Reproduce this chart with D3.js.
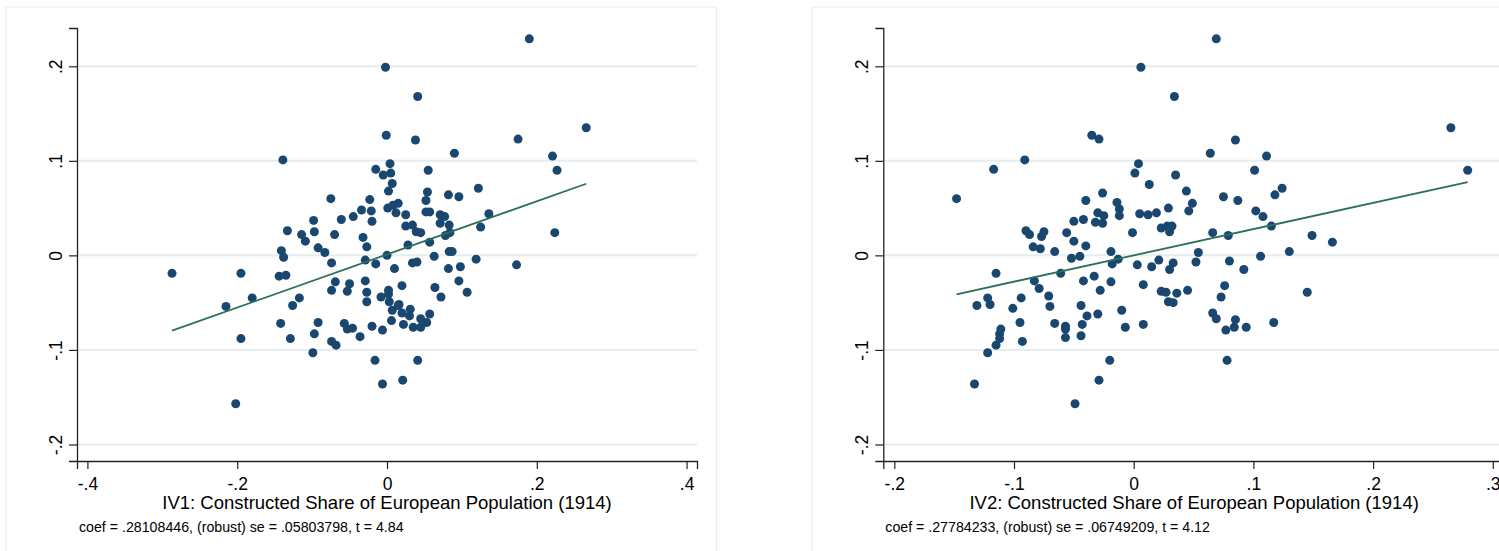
<!DOCTYPE html>
<html>
<head>
  <meta charset="utf-8">
  <title>IV scatter plots</title>
  <style>
    body { margin: 0; padding: 0; background: #fff; overflow: hidden; }
    svg { display: block; }
    text { font-family: "Liberation Sans", Arial, sans-serif; fill: #000; }
  </style>
</head>
<body>
  <svg id="chart" width="1499" height="551"></svg>

  <script src="https://d3js.org/d3.v7.min.js"></script>
  <script>
    // residualised outcome vs. IV1 (left panel)
    const iv1X = [
      -0.002, -0.001, -0.139, 0.004, -0.015, -0.005, 0.005, 0.007, 0.002, -0.075,
      -0.023, -0.034, -0.021, -0.020, -0.045, -0.061, -0.098, -0.133, -0.114, -0.097,
      -0.109, -0.070, -0.032, -0.027, -0.092, -0.083, -0.141, -0.138, -0.074, -0.029,
      -0.015, 0.000, 0.001, 0.008, 0.015, 0.012, 0.010, -0.287, -0.195, -0.144,
      -0.135, -0.069, -0.050, -0.074, -0.053, -0.029, -0.027, -0.027, -0.008, 0.002,
      0.002, 0.003, 0.007, 0.015, 0.006, -0.215, -0.180, -0.117, -0.126, -0.142,
      -0.092, -0.097, -0.129, -0.057, -0.053, -0.046, -0.036, -0.020, -0.006, -0.074,
      -0.068, -0.195, -0.099, -0.016, -0.006, -0.202, 0.025, 0.025, 0.034, 0.039,
      0.045, 0.028, 0.034, 0.040, 0.020, 0.016, 0.020, 0.031, 0.030, 0.045,
      0.022, 0.035, 0.045, 0.053, 0.057, 0.041, 0.021, 0.090, 0.055, 0.054,
      0.052, 0.082, 0.096, 0.122, 0.052, 0.057, 0.071, 0.077, 0.071, 0.083,
      0.078, 0.084, 0.136, 0.125, 0.057, 0.083, 0.087, 0.063, 0.119, 0.098,
      0.082, 0.173, 0.096, 0.064, 0.072, 0.107, 0.190, 0.041, 0.038, 0.175,
      0.266, 0.221, 0.227, 0.224
    ];
    const iv1Y = [
      0.199, 0.127, 0.101, 0.097, 0.091, 0.085, 0.087, 0.076, 0.068, 0.060,
      0.059, 0.048, 0.047, 0.036, 0.041, 0.038, 0.037, 0.026, 0.022, 0.025,
      0.015, 0.022, 0.019, 0.009, 0.008, 0.003, 0.005, -0.002, -0.008, -0.005,
      -0.009, 0.000, 0.050, 0.053, 0.055, 0.045, -0.014, -0.019, -0.019, -0.022,
      -0.021, -0.028, -0.030, -0.037, -0.038, -0.027, -0.039, -0.049, -0.044, -0.037,
      -0.041, -0.049, -0.058, -0.053, -0.069, -0.054, -0.045, -0.045, -0.053, -0.072,
      -0.071, -0.083, -0.088, -0.072, -0.078, -0.077, -0.086, -0.075, -0.079, -0.091,
      -0.095, -0.088, -0.103, -0.111, -0.136, -0.157, 0.043, 0.031, 0.032, 0.025,
      0.024, 0.011, -0.008, -0.007, -0.032, -0.052, -0.061, -0.057, -0.064, -0.067,
      -0.073, -0.076, -0.076, -0.071, -0.062, -0.111, -0.132, 0.108, 0.090, 0.067,
      0.058, 0.064, 0.062, 0.071, 0.046, 0.046, 0.043, 0.041, 0.034, 0.032,
      0.021, 0.024, 0.044, 0.030, 0.014, 0.004, 0.004, -0.001, -0.004, -0.012,
      -0.014, -0.010, -0.027, -0.034, -0.044, -0.039, 0.229, 0.168, 0.122, 0.123,
      0.135, 0.105, 0.090, 0.024
    ];

    // residualised outcome vs. IV2 (right panel)
    const iv2X = [
      0.006, -0.035, -0.029, -0.091, -0.117, 0.004, 0.001, 0.013, -0.148, -0.026,
      -0.040, -0.014, -0.012, -0.012, -0.030, -0.025, -0.032, -0.026, 0.005, 0.012,
      0.019, -0.042, -0.050, -0.090, -0.087, -0.075, -0.077, -0.056, -0.050, -0.040,
      -0.001, -0.084, -0.078, -0.066, -0.019, -0.052, -0.045, -0.018, -0.013, 0.003,
      0.015, 0.021, -0.115, -0.061, -0.033, -0.083, -0.079, -0.042, -0.019, -0.028,
      0.008, -0.131, -0.122, -0.120, -0.094, -0.101, -0.071, -0.070, -0.044, -0.095,
      -0.066, -0.057, -0.057, -0.057, -0.039, -0.043, -0.044, -0.030, -0.010, -0.007,
      0.008, -0.111, -0.112, -0.112, -0.115, -0.122, -0.093, -0.020, -0.029, -0.133,
      -0.049, 0.069, 0.034, 0.265, 0.085, 0.064, 0.111, 0.279, 0.101, 0.035,
      0.044, 0.049, 0.046, 0.075, 0.087, 0.124, 0.118, 0.029, 0.102, 0.108,
      0.115, 0.023, 0.028, 0.032, 0.030, 0.066, 0.079, 0.149, 0.166, 0.054,
      0.130, 0.106, 0.033, 0.030, 0.052, 0.080, 0.092, 0.023, 0.027, 0.036,
      0.045, 0.029, 0.033, 0.076, 0.073, 0.145, 0.066, 0.069, 0.085, 0.084,
      0.077, 0.094, 0.117, 0.078
    ];
    const iv2Y = [
      0.199, 0.127, 0.123, 0.101, 0.091, 0.097, 0.087, 0.075, 0.060, 0.066,
      0.058, 0.056, 0.049, 0.042, 0.045, 0.042, 0.035, 0.034, 0.044, 0.043,
      0.045, 0.038, 0.036, 0.026, 0.022, 0.025, 0.020, 0.024, 0.015, 0.010,
      0.024, 0.009, 0.007, 0.004, 0.004, -0.003, -0.001, -0.009, -0.004, -0.010,
      -0.012, -0.005, -0.019, -0.019, -0.022, -0.027, -0.035, -0.027, -0.028, -0.037,
      -0.031, -0.053, -0.045, -0.052, -0.045, -0.056, -0.043, -0.054, -0.053, -0.071,
      -0.072, -0.075, -0.078, -0.087, -0.064, -0.073, -0.085, -0.062, -0.058, -0.076,
      -0.073, -0.078, -0.083, -0.088, -0.095, -0.103, -0.091, -0.111, -0.132, -0.136,
      -0.157, 0.229, 0.168, 0.135, 0.122, 0.108, 0.105, 0.090, 0.090, 0.085,
      0.068, 0.055, 0.047, 0.062, 0.058, 0.071, 0.064, 0.050, 0.047, 0.041,
      0.031, 0.029, 0.031, 0.031, 0.025, 0.024, 0.021, 0.021, 0.014, 0.003,
      0.004, -0.001, -0.008, -0.015, -0.007, -0.006, -0.015, -0.038, -0.039, -0.040,
      -0.037, -0.049, -0.050, -0.032, -0.044, -0.039, -0.061, -0.067, -0.068, -0.076,
      -0.079, -0.076, -0.071, -0.111
    ];

    const yTicks = [-0.2, -0.1, 0, 0.1, 0.2];
    const iv1Ticks = [-0.4, -0.2, 0, 0.2, 0.4];
    const iv2Ticks = [-0.2, -0.1, 0, 0.1, 0.2, 0.3];

    const iv1Title = 'IV1: Constructed Share of European Population (1914)';
    const iv2Title = 'IV2: Constructed Share of European Population (1914)';
    const iv1Coef = 0.28108446;
    const iv2Coef = 0.27784233;
    const iv1Note = 'coef = .28108446, (robust) se = .05803798, t = 4.84';
    const iv2Note = 'coef = .27784233, (robust) se = .06749209, t = 4.12';

    const dotColor = '#1a476f';
    const lineColor = '#2b6f5c';
    const gridColor = '#e6edf0';
    const font = '"Liberation Sans", Arial, sans-serif';

    // Stata style labels: .2, -.2, 0
    const stataFmt = d => d === 0 ? '0' : d.toFixed(1).replace('0.', '.');

    const svg = d3.select('#chart');

    function drawPanel(opt) {
      const g = svg.append('g');

      // outer graph region
      g.append('rect')
        .attr('x', opt.frame[0]).attr('y', opt.frame[1])
        .attr('width', opt.frame[2]).attr('height', opt.frame[3])
        .attr('fill', '#fff')
        .attr('stroke', gridColor).attr('stroke-width', 1);

      const x = d3.scaleLinear().domain(opt.xDomain).range([opt.left, opt.right]);
      const y = d3.scaleLinear().domain([-0.2175, 0.2405]).range([461, 28]);

      // gridlines
      g.append('g').selectAll('line')
        .data(yTicks)
        .join('line')
        .attr('x1', opt.left).attr('x2', opt.right)
        .attr('y1', d => y(d)).attr('y2', d => y(d))
        .attr('stroke', gridColor).attr('stroke-width', 2);

      // y axis
      const yAxis = g.append('g')
        .attr('transform', `translate(${opt.left},0)`)
        .call(d3.axisLeft(y).tickValues(yTicks).tickSize(8).tickPadding(0).tickFormat(stataFmt));
      yAxis.select('.domain').attr('stroke', '#222').attr('stroke-width', 1.3);
      yAxis.selectAll('.tick line').attr('stroke', '#222').attr('stroke-width', 1.2);
      yAxis.selectAll('.tick text')
        .attr('x', null).attr('dy', null)
        .attr('transform', 'translate(-15,0) rotate(-90)')
        .attr('text-anchor', 'middle')
        .attr('font-size', 17.5).attr('font-family', font)
        .attr('fill', '#000');

      // x axis
      const xAxis = g.append('g')
        .attr('transform', 'translate(0,461)')
        .call(d3.axisBottom(x).tickValues(opt.ticks).tickSize(8).tickPadding(0).tickFormat(stataFmt));
      xAxis.select('.domain').attr('stroke', '#222').attr('stroke-width', 1.3);
      xAxis.selectAll('.tick line').attr('stroke', '#222').attr('stroke-width', 1.2);
      xAxis.selectAll('.tick text')
        .attr('y', 29).attr('dy', null)
        .attr('font-size', 17.5).attr('font-family', font)
        .attr('fill', '#000');

      // points
      const pts = opt.xs.map((v, i) => ({ x: v, y: opt.ys[i] }));
      g.append('g').selectAll('circle')
        .data(pts)
        .join('circle')
        .attr('cx', d => x(d.x)).attr('cy', d => y(d.y))
        .attr('r', 4.5)
        .attr('fill', dotColor);

      // linear fit across the data range
      const b = opt.coef;
      const a = d3.mean(opt.ys) - b * d3.mean(opt.xs);
      const ext = d3.extent(opt.xs);
      g.append('line')
        .attr('x1', x(ext[0])).attr('y1', y(a + b * ext[0]))
        .attr('x2', x(ext[1])).attr('y2', y(a + b * ext[1]))
        .attr('stroke', lineColor).attr('stroke-width', 1.8);

      // titles
      g.append('text')
        .attr('x', (opt.left + opt.right) / 2).attr('y', 509)
        .attr('text-anchor', 'middle')
        .attr('font-size', 18.5).attr('font-family', font)
        .text(opt.title);

      g.append('text')
        .attr('x', opt.left + 2).attr('y', 532)
        .attr('font-size', 14.2).attr('font-family', font)
        .text(opt.note);
    }

    drawPanel({
      frame: [6, 7, 710.5, 560],
      left: 77, right: 697,
      xDomain: [-0.4139, 0.4139],
      ticks: iv1Ticks,
      xs: iv1X, ys: iv1Y,
      coef: iv1Coef,
      title: iv1Title, note: iv1Note
    });

    drawPanel({
      frame: [812, 7, 700, 560],
      left: 883.3, right: 1505,
      xDomain: [-0.2092, 0.3102],
      ticks: iv2Ticks,
      xs: iv2X, ys: iv2Y,
      coef: iv2Coef,
      title: iv2Title, note: iv2Note
    });
  </script>
</body>
</html>
